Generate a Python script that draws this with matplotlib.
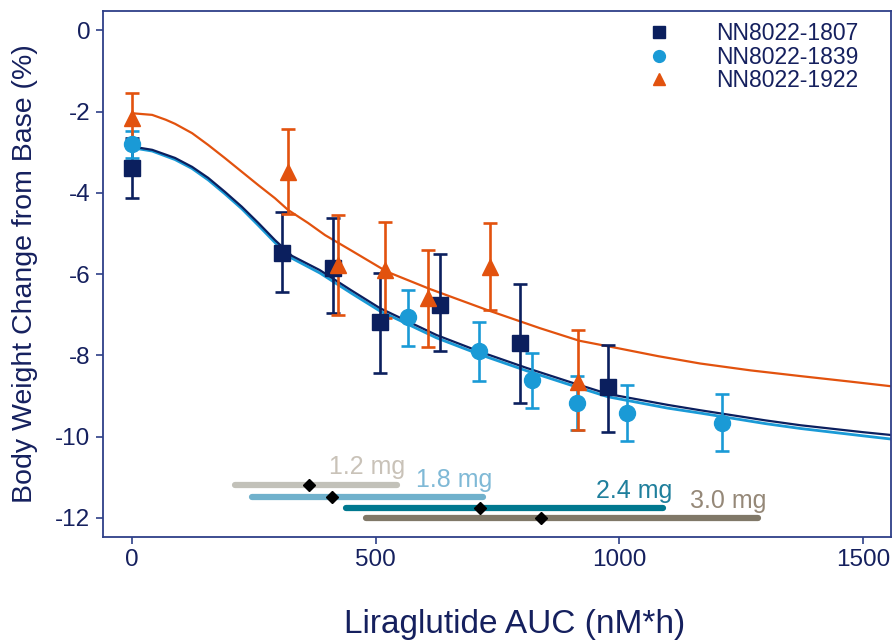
import matplotlib
matplotlib.use("Agg")
import matplotlib.pyplot as plt
from matplotlib.lines import Line2D

plt.rcParams['font.family'] = ['Liberation Sans', 'DejaVu Sans']

# ---- observed data (mean, lower, upper) ----
s1807_x = [0, 307, 412, 509, 632, 796, 977]
s1807_y = [-3.39, -5.48, -5.85, -7.18, -6.76, -7.70, -8.78]
s1807_lo = [-4.13, -6.44, -6.96, -8.44, -7.89, -9.17, -9.89]
s1807_hi = [-2.65, -4.47, -4.62, -5.97, -5.50, -6.24, -7.75]

s1839_x = [0, 566, 712, 821, 913, 1016, 1211]
s1839_y = [-2.80, -7.06, -7.89, -8.61, -9.17, -9.42, -9.67]
s1839_lo = [-3.14, -7.77, -8.63, -9.30, -9.84, -10.11, -10.36]
s1839_hi = [-2.48, -6.39, -7.18, -7.94, -8.51, -8.73, -8.95]

s1922_x = [0, 320, 422, 519, 607, 735, 915]
s1922_y = [-2.16, -3.49, -5.78, -5.90, -6.59, -5.83, -8.66]
s1922_lo = [-2.75, -4.52, -7.01, -7.08, -7.80, -6.88, -9.84]
s1922_hi = [-1.54, -2.43, -4.54, -4.72, -5.41, -4.74, -7.38]

# ---- model curves ----
c1807_x = [0, 41, 88, 123, 156, 190, 225, 259, 293, 328, 385, 450, 509, 625, 714, 810,
           900, 977, 1100, 1166, 1300, 1372, 1500, 1558]
c1807_y = [-2.86, -2.94, -3.14, -3.36, -3.63, -3.97, -4.34, -4.74, -5.16, -5.55, -5.90, -6.40,
           -6.84, -7.50, -7.91, -8.31, -8.66, -8.95, -9.22, -9.35, -9.60, -9.72, -9.89, -9.96]
c1839_x = c1807_x
c1839_y = [-2.89, -2.97, -3.18, -3.40, -3.68, -4.02, -4.39, -4.80, -5.22, -5.61, -5.97, -6.47,
           -6.91, -7.57, -7.98, -8.38, -8.73, -9.02, -9.30, -9.42, -9.68, -9.80, -9.98, -10.06]
c1922_x = [0, 41, 69, 88, 123, 156, 190, 225, 259, 293, 320, 361, 396, 450, 523, 612, 728,
           837, 918, 1000, 1080, 1166, 1270, 1372, 1470, 1558]
c1922_y = [-2.04, -2.08, -2.20, -2.30, -2.53, -2.82, -3.14, -3.48, -3.81, -4.13, -4.42, -4.74,
           -5.04, -5.42, -5.94, -6.37, -6.88, -7.33, -7.64, -7.83, -8.02, -8.20, -8.37, -8.51,
           -8.64, -8.76]

# ---- dose exposure ranges ----
dose_labels = ['1.2 mg', '1.8 mg', '2.4 mg', '3.0 mg']
dose_lo = [212, 245, 439, 480]
dose_hi = [543, 721, 1090, 1285]
dose_med = [363, 410, 714, 840]
dose_level = [-11.19, -11.49, -11.76, -12.01]
dose_colors = ['#c2c1b9', '#70b1cc', '#00788f', '#807868']
dose_text_colors = ['#c9c2b8', '#7fb9d6', '#1f7f9c', '#958878']

xticks = [0, 500, 1000, 1500]
yticks = [0, -2, -4, -6, -8, -10, -12]

navy = '#0b1f5e'
lblue = '#1a9ad6'
orange = '#e2520e'
axis_col = '#2e3f88'
text_col = '#15205e'

fig = plt.figure(figsize=(8.93, 6.4), dpi=100)
ax = fig.add_axes([0.1153, 0.161, 0.8825, 0.822])

# curves
ax.plot(c1839_x, c1839_y, color=lblue, lw=2.0, zorder=2)
ax.plot(c1807_x, c1807_y, color=navy, lw=1.6, zorder=2.1)
ax.plot(c1922_x, c1922_y, color=orange, lw=1.6, zorder=2)

def ebar(xs, ys, lo, hi, color, marker, ms):
    yerr = [[y - l for y, l in zip(ys, lo)], [h - y for y, h in zip(ys, hi)]]
    ax.errorbar(xs, ys, yerr=yerr, fmt=marker, color=color, ms=ms, mec=color,
                elinewidth=1.9, capsize=4.8, capthick=1.9, zorder=3)

ebar(s1807_x, s1807_y, s1807_lo, s1807_hi, navy, 's', 11)
ebar(s1839_x, s1839_y, s1839_lo, s1839_hi, lblue, 'o', 11.5)
ebar(s1922_x, s1922_y, s1922_lo, s1922_hi, orange, '^', 11.5)

# dose bars
for lab, lo, hi, med, lev, c, tc in zip(dose_labels, dose_lo, dose_hi, dose_med, dose_level,
                                       dose_colors, dose_text_colors):
    ax.plot([lo, hi], [lev, lev], color=c, lw=4.5, solid_capstyle='round', zorder=2)
    ax.plot([med], [lev], marker='D', color='black', ms=6.5, zorder=4)
    ax.text(hi + 18, lev + 0.43, lab, color=tc, fontsize=18, ha='right', va='center', zorder=4)

ax.set_xlim(-60, 1558)
ax.set_ylim(-12.47, 0.48)
ax.set_xticks(xticks)
ax.set_yticks(yticks)
ax.set_xticklabels([str(v) for v in xticks])
ax.set_yticklabels([str(v) for v in yticks])
for sp in ax.spines.values():
    sp.set_color(axis_col)
    sp.set_linewidth(1.3)
ax.tick_params(colors=axis_col, labelcolor=text_col, labelsize=17.5, length=5, width=1.2, pad=4)

ax.set_xlabel('Liraglutide AUC (nM*h)', fontsize=24, color=text_col)
ax.xaxis.set_label_coords(0.522, -0.136)
ax.set_ylabel('Body Weight Change from Base (%)', fontsize=20.5, color=text_col)
ax.yaxis.set_label_coords(-0.083, 0.5)

handles = [
    Line2D([], [], ls='none', marker='s', color=navy, ms=8),
    Line2D([], [], ls='none', marker='o', color=lblue, ms=8.5),
    Line2D([], [], ls='none', marker='^', color=orange, ms=8.5),
]
leg = ax.legend(handles, ['NN8022-1807', 'NN8022-1839', 'NN8022-1922'],
                loc='upper right', bbox_to_anchor=(0.973, 1.0), frameon=False,
                fontsize=16.5, handletextpad=2.0, labelspacing=0.02, borderaxespad=0.1,
                handlelength=1.0)
for t in leg.get_texts():
    t.set_color(text_col)

fig.savefig('out.png', dpi=100)
